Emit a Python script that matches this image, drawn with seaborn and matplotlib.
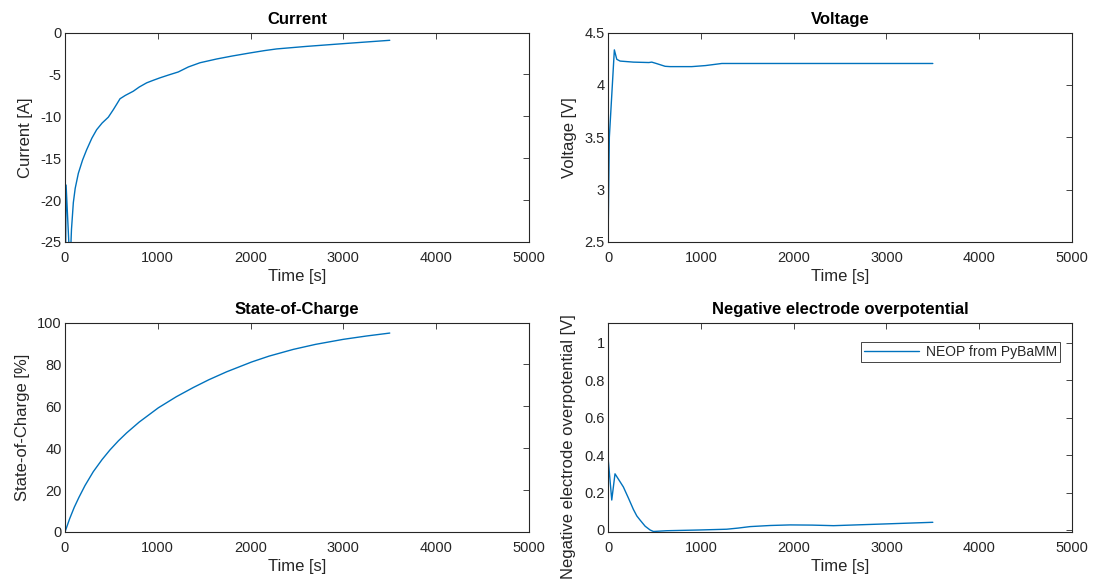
import numpy as np
import pandas as pd
import matplotlib
matplotlib.use("Agg")
import matplotlib.pyplot as plt
import seaborn as sns

# ---- data ----
t_current = [0, 3, 12, 54, 70, 90, 110, 144, 190, 233, 290, 341, 400, 467,
             521, 560, 593, 650, 736, 800, 880, 950, 1024, 1120, 1221, 1330,
             1455, 1635, 1800, 1994, 2150, 2281, 2600, 2999, 3500]
current = [0, -32, -18.2, -28, -23.5, -20.3, -18.6, -16.8, -15.2, -14.0,
           -12.6, -11.6, -10.8, -10.1, -9.2, -8.5, -7.9, -7.5, -7.0, -6.5,
           -6.0, -5.7, -5.4, -5.05, -4.7, -4.1, -3.6, -3.15, -2.8, -2.43,
           -2.15, -1.95, -1.65, -1.32, -0.92]

t_voltage = [0, 14, 68, 94, 130, 273, 440, 471, 520, 615, 669, 902, 1050,
             1226, 3500]
voltage = [2.5, 3.5, 4.335, 4.245, 4.228, 4.218, 4.214, 4.218, 4.205, 4.178,
           4.175, 4.175, 4.185, 4.205, 4.205]

t_soc = [0, 50, 100, 150, 216, 305, 400, 485, 575, 664, 800, 1006, 1200,
         1383, 1550, 1742, 2012, 2200, 2460, 2700, 2999, 3250, 3500]
soc = [0, 6.3, 11.8, 16.5, 22.2, 28.8, 34.6, 39.2, 43.5, 47.3, 52.5, 59.3,
       64.6, 69.0, 72.7, 76.5, 81.2, 84.0, 87.2, 89.6, 92.0, 93.6, 95.0]

t_neop = [0, 3, 40, 75, 120, 165, 220, 273, 310, 345, 400, 453, 489, 632,
          991, 1278, 1400, 1530, 1750, 1962, 2200, 2430, 2970, 3500]
neop = [1.3, 0.37, 0.16, 0.30, 0.265, 0.23, 0.17, 0.11, 0.075, 0.053, 0.02,
        0.0, -0.008, -0.004, 0.0, 0.004, 0.01, 0.018, 0.024, 0.027, 0.026,
        0.023, 0.032, 0.041]

titles = ["Current", "Voltage", "State-of-Charge",
          "Negative electrode overpotential"]
ylabels = ["Current [A]", "Voltage [V]", "State-of-Charge [%]",
           "Negative electrode overpotential [V]"]
xlabel = "Time [s]"
legend_label = "NEOP from PyBaMM"

# ---- style ----
sns.set_style("white")
plt.rcParams["font.family"] = ["Liberation Sans", "DejaVu Sans"]
LINE = "#0072BD"
AX = "#262626"

fig = plt.figure(figsize=(10.94, 5.8), dpi=100)
W = 0.4241
H = 0.361
positions = [
    [0.0594, 0.5828, W, H],
    [0.5558, 0.5828, W, H],
    [0.0594, 0.0828, W, H],
    [0.5558, 0.0828, W, H],
]
axes = [fig.add_axes(p) for p in positions]

series = [(t_current, current), (t_voltage, voltage), (t_soc, soc),
          (t_neop, neop)]
ylims = [(-25, 0), (2.5, 4.5), (0, 100), (-0.0107, 1.108)]
yticks = [np.arange(-25, 0.1, 5), np.arange(2.5, 4.51, 0.5),
          np.arange(0, 101, 20), np.arange(0, 1.01, 0.2)]

for i, (ax, (tx, vy)) in enumerate(zip(axes, series)):
    df = pd.DataFrame({"t": tx, "v": vy})
    sns.lineplot(data=df, x="t", y="v", ax=ax, color=LINE, linewidth=1.0,
                 estimator=None, sort=False,
                 label=legend_label if i == 3 else None, legend=False)
    ax.set_xlim(0, 5000)
    ax.set_ylim(*ylims[i])
    ax.set_xticks(np.arange(0, 5001, 1000))
    ax.set_yticks(yticks[i])
    ax.set_yticklabels([f"{v:g}" for v in yticks[i]])
    ax.tick_params(direction="in", length=4, width=0.6, colors=AX,
                   labelsize=10.5, top=True, right=True)
    ax.tick_params(axis="x", pad=6.5)
    ax.tick_params(axis="y", pad=2.5)
    for s in ax.spines.values():
        s.set_color(AX)
        s.set_linewidth(0.8)
    ax.set_xlabel(xlabel, fontsize=12, color=AX, labelpad=3)
    ax.set_ylabel(ylabels[i], fontsize=12, color=AX, labelpad=5)
    ax.set_title(titles[i], fontsize=12, fontweight="bold", color="black",
                 pad=6)

axes[3].yaxis.set_label_coords(-0.069, 0.41)

leg = axes[3].legend(loc="upper right", fontsize=10, frameon=True,
                     fancybox=False, framealpha=1, edgecolor=AX,
                     handlelength=4.0, borderpad=0.2, handletextpad=0.5,
                     borderaxespad=0, bbox_to_anchor=(0.974, 0.905))
leg.get_frame().set_linewidth(0.6)

fig.savefig("out.png", dpi=100)
